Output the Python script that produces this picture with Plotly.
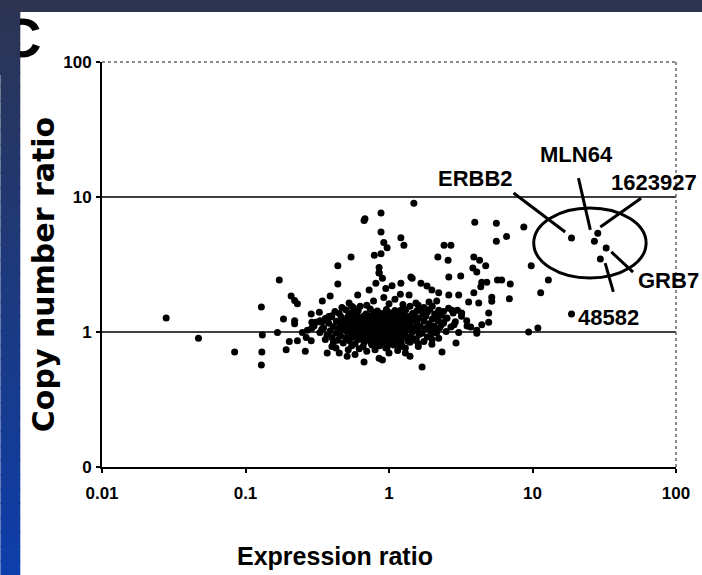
import math
import plotly.graph_objects as go

# ---------------- data ----------------
# dense cloud of genes around expression ~1 / copy number ~1
core_points = [
    (0.50, 1.46), (0.61, 1.44), (0.74, 1.48), (0.83, 1.43), (0.96, 1.47), (1.10, 1.44), (1.31, 1.46), (1.56, 1.43), (1.92, 1.47), (2.40, 1.42),
    (0.45, 1.37), (0.57, 1.39), (0.69, 1.36), (0.79, 1.40), (0.90, 1.37), (1.01, 1.39), (1.16, 1.36), (1.26, 1.40), (1.46, 1.37), (1.72, 1.39), (2.08, 1.36), (2.80, 1.38),
    (0.40, 1.32), (0.52, 1.31), (0.60, 1.33), (0.66, 1.30), (0.74, 1.32), (0.82, 1.31), (0.88, 1.33), (0.95, 1.30), (1.05, 1.32), (1.12, 1.31), (1.20, 1.33), (1.35, 1.30), (1.50, 1.32), (1.80, 1.31), (2.30, 1.33), (3.20, 1.31),
    (0.36, 1.26), (0.47, 1.25), (0.55, 1.27), (0.63, 1.26), (0.69, 1.24), (0.77, 1.27), (0.85, 1.25), (0.91, 1.26), (0.99, 1.24), (1.07, 1.27), (1.16, 1.25), (1.28, 1.26), (1.42, 1.24), (1.62, 1.27), (2.00, 1.25), (2.50, 1.26),
    (0.33, 1.21), (0.43, 1.20), (0.50, 1.22), (0.57, 1.21), (0.65, 1.19), (0.72, 1.22), (0.79, 1.20), (0.86, 1.21), (0.93, 1.19), (1.01, 1.22), (1.09, 1.20), (1.18, 1.21), (1.30, 1.19), (1.48, 1.22), (1.75, 1.20), (2.20, 1.21), (2.90, 1.19),
    (0.38, 1.16), (0.46, 1.15), (0.53, 1.17), (0.60, 1.16), (0.67, 1.14), (0.74, 1.17), (0.81, 1.15), (0.88, 1.16), (0.96, 1.14), (1.04, 1.17), (1.13, 1.15), (1.23, 1.16), (1.37, 1.14), (1.56, 1.17), (1.90, 1.15), (2.40, 1.16),
    (0.30, 1.11), (0.41, 1.10), (0.49, 1.12), (0.56, 1.11), (0.62, 1.09), (0.70, 1.12), (0.77, 1.10), (0.84, 1.11), (0.90, 1.09), (0.98, 1.12), (1.06, 1.10), (1.15, 1.11), (1.26, 1.09), (1.40, 1.12), (1.65, 1.10), (2.05, 1.11), (2.70, 1.09), (3.50, 1.11),
    (0.35, 1.07), (0.44, 1.06), (0.52, 1.08), (0.59, 1.07), (0.66, 1.05), (0.73, 1.08), (0.80, 1.06), (0.87, 1.07), (0.94, 1.05), (1.02, 1.08), (1.10, 1.06), (1.20, 1.07), (1.33, 1.05), (1.52, 1.08), (1.80, 1.06), (2.25, 1.07),
    (0.27, 1.03), (0.39, 1.02), (0.48, 1.04), (0.55, 1.03), (0.61, 1.01), (0.68, 1.04), (0.75, 1.02), (0.82, 1.03), (0.89, 1.01), (0.97, 1.04), (1.05, 1.02), (1.14, 1.03), (1.24, 1.01), (1.38, 1.04), (1.58, 1.02), (1.95, 1.03), (2.50, 1.01),
    (0.33, 0.99), (0.43, 0.98), (0.51, 1.00), (0.58, 0.99), (0.64, 0.97), (0.71, 1.00), (0.78, 0.98), (0.85, 0.99), (0.92, 0.97), (1.00, 1.00), (1.08, 0.98), (1.17, 0.99), (1.29, 0.97), (1.45, 1.00), (1.70, 0.98), (2.10, 0.99),
    (0.37, 0.95), (0.46, 0.94), (0.54, 0.96), (0.62, 0.95), (0.69, 0.93), (0.76, 0.96), (0.83, 0.94), (0.90, 0.95), (0.98, 0.93), (1.06, 0.96), (1.16, 0.94), (1.27, 0.95), (1.42, 0.93), (1.62, 0.96), (1.95, 0.94),
    (0.40, 0.91), (0.50, 0.90), (0.57, 0.92), (0.65, 0.91), (0.73, 0.89), (0.80, 0.92), (0.87, 0.90), (0.95, 0.91), (1.03, 0.89), (1.12, 0.92), (1.22, 0.90), (1.36, 0.91), (1.55, 0.89), (1.85, 0.92),
    (0.44, 0.87), (0.53, 0.86), (0.61, 0.88), (0.69, 0.87), (0.77, 0.85), (0.85, 0.88), (0.93, 0.86), (1.01, 0.87), (1.10, 0.85), (1.21, 0.88), (1.35, 0.86), (1.52, 0.87),
    (0.48, 0.83), (0.58, 0.82), (0.67, 0.84), (0.75, 0.83), (0.84, 0.81), (0.92, 0.84), (1.00, 0.82), (1.10, 0.83), (1.22, 0.81), (1.40, 0.84),
    (0.55, 0.79), (0.66, 0.78), (0.76, 0.80), (0.86, 0.79), (0.97, 0.77), (1.08, 0.80), (1.20, 0.78),
    (0.62, 0.75), (0.80, 0.74), (0.95, 0.76), (1.15, 0.73),
    (0.78, 1.70), (0.92, 1.80), (1.00, 1.62), (0.70, 1.58), (1.10, 1.75), (0.95, 2.10), (1.25, 1.60), (0.63, 1.55),
    (1.40, 1.55), (1.60, 1.58), (1.75, 1.52), (2.00, 1.55), (2.60, 1.50), (3.00, 1.45), (1.20, 1.90), (1.05, 2.20), (0.90, 2.50),
    (0.45, 0.70), (0.58, 0.68), (0.70, 0.72), (1.00, 0.70), (1.30, 0.76), (1.60, 0.78), (1.40, 0.66), (0.90, 0.62),
    (0.31, 1.18), (0.34, 1.05), (0.36, 0.88), (0.41, 0.84), (0.38, 1.30), (0.42, 1.42), (0.47, 1.52), (0.55, 1.55),
    (1.70, 1.45), (1.85, 1.40), (2.10, 1.28), (2.30, 1.12), (2.00, 0.88), (1.75, 0.85), (1.60, 0.82), (1.30, 0.70),
    (0.52, 0.74), (0.40, 0.78),
]

# scattered genes around the cloud
spread_points = [
    (0.028, 1.27), (0.047, 0.90), (0.084, 0.71), (0.129, 0.57), (0.130, 0.71), (0.129, 1.53), (0.131, 0.95),
    (0.172, 2.43), (0.167, 0.99), (0.184, 1.25),
    (0.208, 1.85), (0.220, 1.71), (0.230, 1.62), (0.220, 1.21), (0.220, 1.15), (0.287, 1.36), (0.290, 1.18),
    (0.290, 1.07), (0.249, 0.99), (0.265, 0.91), (0.230, 0.86), (0.202, 0.85), (0.192, 0.74), (0.261, 0.72),
    (0.287, 0.86), (0.371, 0.70), (0.427, 0.76), (0.511, 0.66), (0.670, 0.60), (0.853, 0.64), (0.327, 1.40),
    (0.338, 1.18), (0.365, 1.21), (0.395, 1.29), (0.465, 1.29), (0.527, 1.38), (0.567, 1.51), (0.440, 2.27),
    (0.389, 1.85), (0.343, 1.70), (0.527, 1.64), (0.605, 1.88), (0.727, 2.05), (0.853, 2.75), (0.810, 2.30),
    (1.49, 9.0), (0.68, 6.9), (0.67, 6.7), (0.88, 7.6), (0.88, 5.5), (0.92, 4.6), (0.97, 4.2), (1.21, 5.0),
    (1.27, 4.4), (0.79, 3.7), (0.88, 3.8), (0.544, 3.6), (0.44, 3.1), (0.853, 3.0), (0.853, 2.73),
    (3.96, 6.5), (5.6, 6.4), (5.6, 4.7), (6.6, 5.1), (2.42, 4.4), (2.70, 4.4), (2.19, 3.6), (2.58, 3.4),
    (3.90, 3.6), (4.28, 3.4), (4.72, 3.1), (3.84, 2.98), (4.09, 2.78), (2.61, 2.56), (3.16, 2.6),
    (4.43, 2.34), (4.80, 2.34), (5.7, 2.43), (6.1, 2.43), (7.0, 2.27), (6.9, 1.76), (5.2, 1.81), (5.2, 1.69),
    (1.45, 2.5), (1.42, 2.55), (1.21, 2.3), (1.84, 2.19), (2.22, 1.95), (1.90, 1.67), (2.61, 1.88), (3.06, 1.88),
    (3.59, 1.67), (3.90, 1.95), (4.36, 2.16), (4.22, 1.64), (4.95, 1.38), (4.95, 1.18), (4.43, 1.13), (4.09, 1.03),
    (3.21, 1.38), (3.48, 1.21), (3.71, 1.09), (2.75, 1.45), (2.54, 1.27), (2.84, 1.13), (3.06, 0.99), (2.22, 1.45),
    (2.34, 1.17), (2.15, 0.99), (2.22, 0.90), (1.99, 0.81), (2.34, 0.71), (2.93, 0.83), (4.09, 0.98), (1.70, 0.55),
    (1.67, 2.30), (1.99, 2.05), (2.15, 1.70), (1.38, 1.88), (1.54, 1.64), (1.21, 1.45),
    (8.7, 6.0), (9.8, 3.1), (11.4, 1.95), (12.9, 2.43), (9.4, 1.0), (10.9, 1.07),
]

# amplicon genes (highlighted)
gene_names = ["ERBB2", "MLN64", "1623927", "GRB7", "48582"]
gene_expr = [18.7, 27.0, 28.5, 32.6, 18.7]
gene_copy = [4.97, 4.70, 5.40, 4.19, 1.36]
unlabelled_expr = [29.7]
unlabelled_copy = [3.47]

# label placement (data units) and leader lines (data units)
label_expr = [4.02, 20.2, 70.3, 88.0, 33.7]
label_copy = [13.8, 20.8, 12.9, 2.39, 1.29]
leader_lines = [
    ((7.38, 10.7), (16.9, 5.5)),
    ((20.9, 13.8), (25.3, 5.7)),
    ((57.1, 9.8), (29.7, 6.0)),
    ((35.4, 3.92), (50.2, 2.78)),
    ((32.1, 3.24), (36.6, 1.98)),
]
ellipse_expr = (10.2, 61.9)
ellipse_copy = (2.51, 8.3)

x_tickvals = [0.01, 0.1, 1, 10, 100]
x_ticktext = ["0.01", "0.1", "1", "10", "100"]
y_tickvals = [0.1, 1, 10, 100]
y_ticktext = ["0", "1", "10", "100"]
ref_lines = [1, 10]

# ---------------- figure ----------------
W, H = 702, 575
ML, MR, MT, MB = 102, 24, 62, 108
PW, PH = W - ML - MR, H - MT - MB


def px(xp):
    return (xp - ML) / PW


def py(yp):
    return (H - MB - yp) / PH


BOLD = "Liberation Sans, Arial, sans-serif"

all_pts = core_points + spread_points
fig = go.Figure()
fig.add_trace(go.Scatter(
    x=[p[0] for p in all_pts] + gene_expr + unlabelled_expr,
    y=[p[1] for p in all_pts] + gene_copy + unlabelled_copy,
    mode="markers",
    marker=dict(size=7, color="black", line=dict(width=0)),
    showlegend=False, hoverinfo="skip",
))

shapes = []
for yv in ref_lines:
    shapes.append(dict(type="line", xref="paper", yref="y", x0=0, x1=1, y0=yv, y1=yv,
                       line=dict(color="black", width=1.6)))
# dotted top / right frame
shapes.append(dict(type="line", xref="paper", yref="paper", x0=0, x1=1, y0=1, y1=1,
                   line=dict(color="#666666", width=1.5, dash="dot")))
shapes.append(dict(type="line", xref="paper", yref="paper", x0=1, x1=1, y0=0, y1=1,
                   line=dict(color="#666666", width=1.5, dash="dot")))
# amplicon ellipse and leader lines
shapes.append(dict(type="circle", xref="x", yref="y",
                   x0=ellipse_expr[0], x1=ellipse_expr[1], y0=ellipse_copy[0], y1=ellipse_copy[1],
                   line=dict(color="black", width=3)))
for (a, b) in leader_lines:
    shapes.append(dict(type="line", xref="x", yref="y", x0=a[0], y0=a[1], x1=b[0], y1=b[1],
                       line=dict(color="black", width=3)))

# slide border: gradient bar on the left, dark bar on top
n = 40
top_c = (44, 52, 82)
bot_c = (14, 62, 170)
bar_w = 20


def band_color(yp):
    t = min(max(yp / H, 0), 1)
    return "rgb(%d,%d,%d)" % tuple(round(top_c[k] + (bot_c[k] - top_c[k]) * t) for k in range(3))


for i in range(n):
    y0p = H * i / n
    y1p = H * (i + 1) / n + 1
    shapes.append(dict(type="rect", xref="paper", yref="paper", layer="above",
                       x0=px(0), x1=px(bar_w), y0=py(y1p), y1=py(y0p),
                       fillcolor=band_color((y0p + y1p) / 2), line=dict(width=0)))
shapes.append(dict(type="rect", xref="paper", yref="paper", layer="above",
                   x0=px(0), x1=px(W), y0=py(12), y1=py(0),
                   fillcolor="rgb(44,52,82)", line=dict(width=0)))

annotations = []
for name, lx, ly in zip(gene_names, label_expr, label_copy):
    annotations.append(dict(x=math.log10(lx), y=math.log10(ly), xref="x", yref="y",
                            text=name, showarrow=False, xanchor="center", yanchor="middle",
                            font=dict(size=22, family=BOLD, weight="bold", color="black")))
annotations.append(dict(x=px(43), y=py(275), xref="paper", yref="paper", text="Copy number ratio",
                        textangle=-90, showarrow=False, xanchor="center", yanchor="middle",
                        font=dict(size=30, family="DejaVu Sans, sans-serif", weight="bold", color="black")))
annotations.append(dict(x=px(336), y=py(556), xref="paper", yref="paper", text="Expression ratio",
                        showarrow=False, xanchor="center", yanchor="middle",
                        font=dict(size=25, family=BOLD, weight="bold", color="black")))
# panel letter, partly hidden behind the slide border
annotations.append(dict(x=px(21), y=py(38), xref="paper", yref="paper", text="C",
                        showarrow=False, xanchor="center", yanchor="middle",
                        font=dict(size=56, family=BOLD, weight="bold", color="black")))
for k in range(8):
    y0p = 10 + 8 * k
    annotations.append(dict(x=px(0), y=py(y0p), xref="paper", yref="paper", text=" ",
                            showarrow=False, xanchor="left", yanchor="top",
                            width=bar_w, height=9, borderpad=0, borderwidth=0,
                            bgcolor=band_color(y0p + 4), font=dict(size=4)))
annotations.append(dict(x=px(0), y=py(0), xref="paper", yref="paper", text=" ",
                        showarrow=False, xanchor="left", yanchor="top",
                        width=W, height=12, borderpad=0, borderwidth=0,
                        bgcolor="rgb(44,52,82)", font=dict(size=4)))

axis_common = dict(
    type="log", showgrid=False, zeroline=False, showline=True, linecolor="black", linewidth=2,
    ticks="outside", ticklen=4, tickwidth=2, tickcolor="black",
    tickfont=dict(size=17, family=BOLD, weight="bold", color="black"),
)
fig.update_layout(
    width=W, height=H,
    margin=dict(l=ML, r=MR, t=MT, b=MB),
    paper_bgcolor="white", plot_bgcolor="white",
    xaxis=dict(range=[-2, 2], tickvals=x_tickvals, ticktext=x_ticktext, ticklabelstandoff=6, **axis_common),
    yaxis=dict(range=[-1, 2], tickvals=y_tickvals, ticktext=y_ticktext, ticklabelstandoff=1, **axis_common),
    shapes=shapes, annotations=annotations, showlegend=False,
)

fig.write_html("out.html")
